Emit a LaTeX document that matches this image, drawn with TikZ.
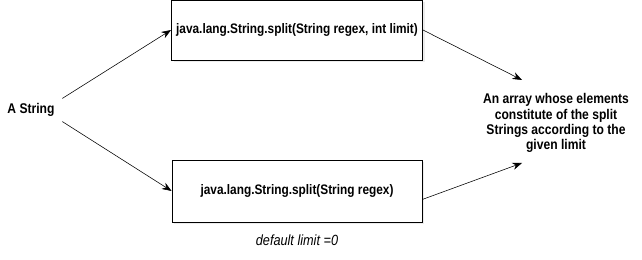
\documentclass[tikz,border=0pt]{standalone}
\usepackage{fontspec}
\setmainfont{Liberation Sans}[FakeStretch=0.86]
\usepackage{tikz}
\usetikzlibrary{arrows.meta, positioning, shadows}

\begin{document}
\begin{tikzpicture}[x=0.025cm, y=-0.025cm,
    callbox/.style={rectangle, draw=black, fill=white, semithick,
                    minimum width=250*0.025cm, align=center,
                    font=\fontsize{9.8}{11}\selectfont\bfseries,
                    drop shadow={shadow xshift=1.5pt, shadow yshift=-1.5pt, opacity=0.15}},
    plain/.style={align=center, font=\fontsize{10}{10.8}\selectfont\bfseries},
    arr/.style={-{Stealth[length=2.4mm, width=1.8mm]}, thin}
]
\useasboundingbox (0,0) rectangle (642,260);

\node[callbox, minimum height=60*0.025cm] (top) at (297,30) {java.lang.String.split(String regex, int limit)};
\node[callbox, minimum height=62*0.025cm] (bot) at (297,191) {java.lang.String.split(String regex)};
\node[plain, minimum width=62*0.025cm, minimum height=20*0.025cm] (str) at (31,110) {A String};
\node[plain] (res) at (556,123) {An array whose elements\\constitute of the split\\Strings according to the\\given limit};
\node[font=\fontsize{10.5}{12}\selectfont\itshape, below=5pt of bot] (dflt) {default limit =0};

% ends of the outgoing arrows
\coordinate (in1) at (522,80);
\coordinate (in2) at (522,163);

\draw[arr] (str.north east) -- (top.west);
\draw[arr] (str.south east) -- (bot.west);
\draw[arr] (top.east) -- (in1);
\draw[arr] ([yshift=-6pt]bot.east) -- (in2);
\end{tikzpicture}
\end{document}
